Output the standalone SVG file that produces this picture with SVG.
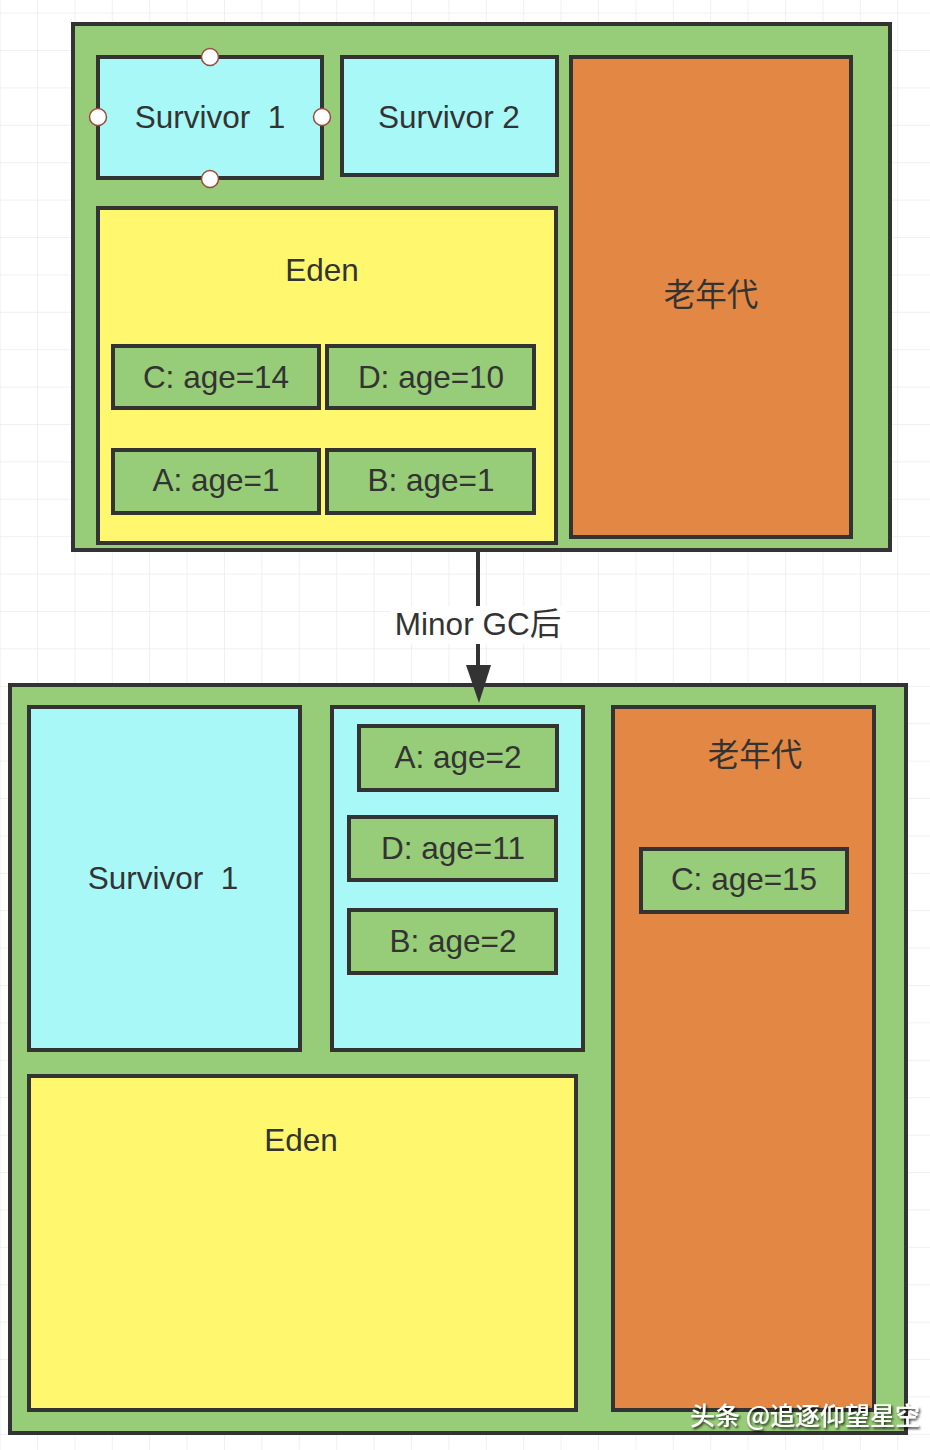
<svg xmlns="http://www.w3.org/2000/svg" width="930" height="1450" viewBox="0 0 930 1450">
<defs>
<pattern id="grid" x="37" y="50" width="37.4" height="37.4" patternUnits="userSpaceOnUse">
<path d="M0 0 H37.4 M0 0 V37.4" fill="none" stroke="#ebebeb" stroke-width="1.5"/>
</pattern>
<filter id="sh" x="-10%" y="-10%" width="120%" height="130%">
<feDropShadow dx="1.5" dy="2" stdDeviation="1.2" flood-color="#000" flood-opacity="0.75"/>
</filter>
</defs>
<style>
.box{stroke:#333;stroke-width:4}
.heap{fill:#97cc78}
.surv{fill:#a8f8f8}
.eden{fill:#fff86e}
.old{fill:#e28844}
.obj{fill:#97cc78}
.t{font-family:"Liberation Sans","Noto Sans CJK SC",sans-serif;font-size:31.5px;fill:#333;text-anchor:middle}
.handle{fill:#fff;stroke:#9c4a3c;stroke-width:1.5}
.wm{font-family:"Noto Sans CJK SC","Liberation Sans",sans-serif;font-size:25px;fill:#fff;font-weight:500}
</style>
<rect width="930" height="1450" fill="#fff"/>
<rect width="930" height="1450" fill="url(#grid)"/>

<g id="heap-before">
<rect class="box heap" x="73" y="24" width="817" height="526"/>
</g>
<g id="survivor1-before">
<rect class="box surv" x="98" y="57" width="224" height="121"/>
<text class="t" x="210" y="128">Survivor &#160;1</text>
<circle class="handle" cx="210" cy="57" r="8.5"/>
<circle class="handle" cx="98" cy="117" r="8.5"/>
<circle class="handle" cx="322" cy="117" r="8.5"/>
<circle class="handle" cx="210" cy="179" r="8.5"/>
</g>
<g id="survivor2-before">
<rect class="box surv" x="342" y="57" width="215" height="118"/>
<text class="t" x="449" y="128">Survivor 2</text>
</g>
<g id="old-before">
<rect class="box old" x="571" y="57" width="280" height="480"/>
<text class="t" x="711" y="306">老年代</text>
</g>
<g id="eden-before">
<rect class="box eden" x="98" y="208" width="458" height="335"/>
<text class="t" x="322" y="281">Eden</text>
</g>
<g id="objC-before">
<rect class="box obj" x="113" y="346" width="206" height="62"/>
<text class="t" x="216" y="388">C: age=14</text>
</g>
<g id="objD-before">
<rect class="box obj" x="327" y="346" width="207" height="62"/>
<text class="t" x="431" y="388">D: age=10</text>
</g>
<g id="objA-before">
<rect class="box obj" x="113" y="450" width="206" height="63"/>
<text class="t" x="216" y="491">A: age=1</text>
</g>
<g id="objB-before">
<rect class="box obj" x="327" y="450" width="207" height="63"/>
<text class="t" x="431" y="491">B: age=1</text>
</g>

<g id="heap-after">
<rect class="box heap" x="10" y="685" width="896" height="748"/>
</g>
<g id="survivor1-after">
<rect class="box surv" x="29" y="707" width="271" height="343"/>
<text class="t" x="163" y="889">Survivor &#160;1</text>
</g>
<g id="survivor2-after">
<rect class="box surv" x="332" y="707" width="251" height="343"/>
</g>
<g id="objA-after">
<rect class="box obj" x="359" y="726" width="198" height="64"/>
<text class="t" x="458" y="768">A: age=2</text>
</g>
<g id="objD-after">
<rect class="box obj" x="349" y="817" width="207" height="63"/>
<text class="t" x="453" y="859">D: age=11</text>
</g>
<g id="objB-after">
<rect class="box obj" x="349" y="910" width="207" height="63"/>
<text class="t" x="453" y="952">B: age=2</text>
</g>
<g id="old-after">
<rect class="box old" x="613" y="707" width="261" height="703"/>
<text class="t" x="755" y="766">老年代</text>
</g>
<g id="objC-after">
<rect class="box obj" x="641" y="849" width="206" height="63"/>
<text class="t" x="744" y="890">C: age=15</text>
</g>
<g id="eden-after">
<rect class="box eden" x="29" y="1076" width="547" height="334"/>
<text class="t" x="301" y="1151">Eden</text>
</g>

<g id="connectors">
<line x1="478" y1="550" x2="478" y2="668" stroke="#333" stroke-width="4"/>
<polygon points="466,665 491,665 479,703" fill="#333"/>
<rect x="390" y="606" width="176" height="38" fill="#fff"/>
<text class="t" x="478" y="635">Minor GC后</text>
</g>

<text class="wm" x="690" y="1425" filter="url(#sh)">头条 @追逐仰望星空</text>
</svg>
